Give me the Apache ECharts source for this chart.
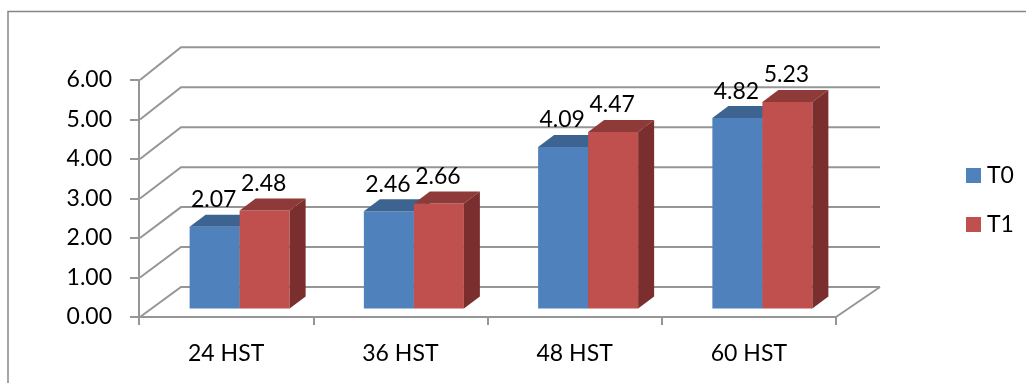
<!DOCTYPE html>
<html>
<head>
<meta charset="utf-8">
<style>
  html, body { margin: 0; padding: 0; background: #fff; }
  #chart { width: 1026px; height: 383px; }
</style>
<script src="https://cdn.jsdelivr.net/npm/echarts@6/dist/echarts.min.js"></script>
</head>
<body>
<div id="chart"></div>
<script>
const categories = ['24 HST', '36 HST', '48 HST', '60 HST'];
const t0Values = [2.07, 2.46, 4.09, 4.82];
const t1Values = [2.48, 2.66, 4.47, 5.23];
const wallTicks = [0, 1, 2, 3, 4, 5, 6];

const FONT = 'Lato, "Open Sans", sans-serif';
const FONT_SIZE = 23;
const LINE = '#969696';

// Box extrusion used for the pseudo-3D columns, and the wall depth behind the axes.
const BOX = { dx: 16, dy: 12, lift: 8.5, shift: 13.5, widthRatio: 0.287 };
const WALL = { dx: 42, dy: 30, stretch: 1.0114 };

function renderWall(params, api) {
  const cs = params.coordSys;
  const value = api.value(0);
  const y0 = api.coord([0, 0])[1];
  const y = api.coord([0, value])[1];
  const xFront = cs.x + 1;
  const xBack = cs.x + WALL.dx;
  const xEnd = cs.x + cs.width + WALL.dx + 2;
  const yBack = y0 - WALL.dy + (y - y0) * WALL.stretch;
  const lineStyle = { stroke: LINE, lineWidth: 2, fill: null };
  const children = [{
    type: 'polyline',
    shape: { points: [[xFront, y], [xBack, yBack], [xEnd, yBack]] },
    style: lineStyle
  }];
  if (value === 0) {
    children.push({
      type: 'line',
      shape: { x1: cs.x + cs.width, y1: y0, x2: xEnd, y2: yBack },
      style: lineStyle
    });
  }
  return { type: 'group', children };
}

function columnRenderer(slot, front, top, side) {
  return function (params, api) {
    const cat = api.value(0);
    const val = api.value(1);
    const center = api.coord([cat, 0])[0];
    const w = api.size([1, 0])[0] * BOX.widthRatio;
    const x = center + BOX.shift + (slot - 1) * w;
    const base = api.coord([cat, 0])[1] - BOX.lift;
    const yTop = api.coord([cat, val])[1] - BOX.lift;
    const { dx, dy } = BOX;
    return {
      type: 'group',
      children: [
        { type: 'rect', shape: { x, y: yTop, width: w, height: base - yTop }, style: { fill: front } },
        { type: 'polygon', shape: { points: [[x, yTop], [x + w, yTop], [x + w + dx, yTop - dy], [x + dx, yTop - dy]] }, style: { fill: top } },
        { type: 'polygon', shape: { points: [[x + w, yTop], [x + w + dx, yTop - dy], [x + w + dx, base - dy], [x + w, base]] }, style: { fill: side } },
        {
          type: 'text',
          z2: 50,
          style: {
            x: x + w / 2 - 1, y: yTop - 27,
            text: val.toFixed(2),
            fill: '#000', font: FONT_SIZE + 'px ' + FONT,
            align: 'center', verticalAlign: 'middle'
          }
        }
      ]
    };
  };
}

const chart = echarts.init(document.getElementById('chart'), null, { renderer: 'canvas' });
chart.setOption({
  animation: false,
  backgroundColor: '#fff',
  graphic: [{
    type: 'polyline',
    silent: true,
    shape: { points: [[8, 400], [8, 11.5], [1040, 11.5]] },
    style: { stroke: '#868686', lineWidth: 1.5, fill: null }
  }],
  legend: {
    orient: 'vertical',
    left: 961,
    top: 159,
    itemWidth: 15,
    itemHeight: 15,
    itemGap: 26,
    icon: 'rect',
    data: ['T0', 'T1'],
    textStyle: { fontFamily: FONT, fontSize: FONT_SIZE, color: '#000', padding: [0, 0, 0, 1] }
  },
  grid: { left: 139, top: 80, width: 697, height: 237 },
  xAxis: {
    type: 'category',
    data: categories,
    axisLine: { lineStyle: { color: LINE, width: 2 } },
    axisTick: { show: true, alignWithLabel: false, length: 8, lineStyle: { color: LINE, width: 2 } },
    axisLabel: { fontFamily: FONT, fontSize: FONT_SIZE, color: '#000', margin: 25 }
  },
  yAxis: {
    type: 'value',
    min: 0,
    max: 6,
    interval: 1,
    axisLine: { show: true, lineStyle: { color: LINE, width: 2 } },
    axisTick: { show: true, length: 9, lineStyle: { color: LINE, width: 2 } },
    splitLine: { show: false },
    axisLabel: { fontFamily: FONT, fontSize: FONT_SIZE, color: '#000', margin: 27, formatter: v => v.toFixed(2) }
  },
  series: [
    { type: 'custom', name: 'wall', silent: true, z: 1, data: wallTicks.map(v => [v]), encode: { y: 0 }, renderItem: renderWall },
    {
      type: 'custom', name: 'T0', z: 3, itemStyle: { color: '#4F81BD' },
      data: t0Values.map((v, i) => [i, v]), encode: { x: 0, y: 1 },
      renderItem: columnRenderer(0, '#4F81BD', '#3D6491', '#355A85')
    },
    {
      type: 'custom', name: 'T1', z: 4, itemStyle: { color: '#C0504D' },
      data: t1Values.map((v, i) => [i, v]), encode: { x: 0, y: 1 },
      renderItem: columnRenderer(1, '#C0504D', '#8E3A38', '#7A2F2E')
    }
  ]
});
</script>
</body>
</html>
